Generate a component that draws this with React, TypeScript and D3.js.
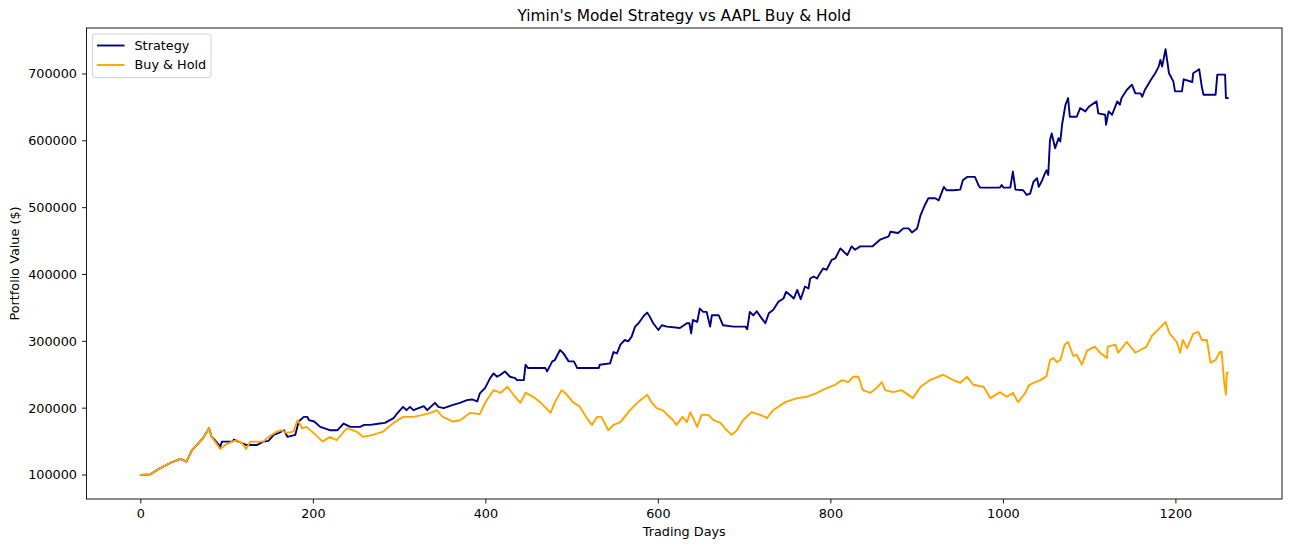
import React from "react";
import * as d3 from "d3";

const strategyDays = [0, 11, 22, 34, 46, 53, 59, 65, 72, 79, 82, 86, 90, 92, 94, 106, 108, 115, 122, 135, 142, 148, 154, 160, 166, 170, 179, 183, 189, 193, 195, 201, 208, 219, 228, 235, 243, 254, 259, 266, 277, 283, 293, 297, 304, 308, 312, 316, 328, 332, 341, 345, 351, 362, 370, 378, 384, 390, 393, 399, 405, 409, 413, 417, 422, 428, 434, 436, 444, 446, 449, 469, 471, 477, 480, 486, 490, 496, 502, 506, 531, 532, 544, 548, 552, 556, 561, 565, 569, 573, 577, 583, 587, 590, 594, 600, 604, 610, 625, 633, 636, 638, 640, 645, 648, 652, 656, 660, 662, 670, 675, 687, 701, 703, 706, 710, 714, 720, 724, 728, 733, 739, 745, 748, 753, 757, 761, 765, 770, 774, 776, 780, 784, 786, 791, 795, 801, 805, 811, 815, 819, 824, 828, 834, 848, 857, 867, 869, 878, 884, 890, 894, 900, 904, 909, 913, 921, 925, 931, 934, 942, 950, 953, 958, 967, 971, 973, 996, 998, 1000, 1008, 1011, 1014, 1023, 1027, 1031, 1035, 1039, 1041, 1045, 1048, 1050, 1052, 1054, 1056, 1060, 1064, 1066, 1068, 1072, 1075, 1077, 1085, 1089, 1095, 1099, 1108, 1110, 1118, 1119, 1122, 1126, 1132, 1135, 1137, 1143, 1149, 1153, 1159, 1161, 1164, 1170, 1176, 1180, 1182, 1184, 1188, 1192, 1197, 1199, 1207, 1209, 1219, 1220, 1227, 1230, 1232, 1246, 1248, 1257, 1258, 1260];

const strategyValues = [100, 101, 110, 118, 124, 120, 137, 145, 155, 170, 157, 152, 146, 142, 150, 150, 153, 149, 145, 145, 150, 151, 160, 163, 167, 157, 160, 180, 187, 187, 182, 180, 172, 167, 167, 177, 172, 172, 175, 175, 177, 178, 185, 192, 202, 197, 202, 197, 203, 197, 208, 202, 200, 205, 208, 212, 213, 210, 222, 230, 245, 252, 247, 250, 255, 247, 245, 242, 242, 265, 260, 260, 255, 270, 272, 287, 282, 270, 270, 260, 260, 265, 267, 284, 282, 295, 302, 300, 307, 322, 327, 338, 343, 337, 327, 317, 324, 322, 320, 327, 327, 312, 332, 329, 349, 344, 344, 322, 339, 339, 324, 322, 322, 318, 344, 339, 345, 334, 327, 342, 347, 359, 364, 374, 369, 364, 377, 363, 382, 379, 394, 397, 394, 399, 409, 407, 422, 424, 439, 434, 429, 442, 437, 442, 442, 452, 457, 464, 462, 469, 469, 463, 469, 489, 504, 514, 514, 511, 531, 526, 526, 527, 541, 546, 546, 534, 530, 530, 534, 530, 530, 554, 527, 526, 519, 521, 539, 544, 531, 541, 551, 556, 549, 601, 611, 589, 604, 599, 624, 654, 664, 636, 636, 649, 644, 651, 659, 641, 639, 624, 644, 639, 659, 654, 664, 676, 684, 671, 671, 666, 676, 689, 701, 711, 721, 711, 737, 701, 689, 674, 674, 692, 688, 701, 707, 681, 669, 669, 699, 699, 664, 664].map((v) => v * 1000);

const buyHoldDays = [0, 11, 22, 34, 46, 53, 59, 65, 72, 79, 82, 86, 92, 98, 106, 111, 117, 122, 127, 142, 148, 158, 163, 169, 177, 181, 182, 187, 192, 200, 211, 219, 227, 239, 250, 258, 269, 281, 293, 304, 316, 327, 336, 343, 350, 362, 370, 382, 393, 399, 409, 417, 425, 432, 440, 446, 455, 463, 475, 480, 488, 494, 501, 509, 517, 523, 529, 534, 542, 548, 556, 567, 579, 587, 592, 598, 605, 617, 621, 628, 633, 637, 645, 650, 658, 664, 672, 677, 685, 691, 698, 708, 718, 726, 733, 747, 761, 772, 784, 795, 805, 813, 820, 826, 832, 837, 846, 853, 859, 863, 872, 882, 895, 904, 915, 930, 942, 950, 958, 965, 977, 985, 996, 1004, 1011, 1017, 1025, 1030, 1039, 1043, 1050, 1054, 1058, 1062, 1066, 1071, 1075, 1081, 1085, 1091, 1097, 1106, 1112, 1120, 1121, 1130, 1133, 1143, 1153, 1159, 1166, 1172, 1182, 1188, 1193, 1201, 1205, 1208, 1213, 1220, 1226, 1230, 1236, 1240, 1246, 1251, 1253, 1256, 1258, 1259, 1260];

const buyHoldValues = [100, 101, 110, 118, 124, 120, 137, 145, 155, 170, 157, 150, 139, 145, 150, 152, 148, 139, 150, 150, 157, 165, 167, 163, 165, 180, 182, 170, 172, 163, 150, 157, 152, 170, 165, 157, 160, 165, 178, 187, 187, 190, 193, 197, 187, 180, 182, 193, 191, 208, 227, 223, 232, 220, 208, 223, 217, 209, 193, 209, 227, 220, 209, 202, 185, 175, 187, 187, 167, 175, 179, 197, 212, 220, 209, 200, 197, 182, 175, 187, 179, 194, 172, 190, 190, 182, 178, 170, 160, 167, 182, 194, 190, 185, 197, 209, 215, 217, 223, 230, 235, 242, 239, 247, 247, 227, 223, 230, 239, 227, 224, 227, 215, 232, 242, 250, 242, 238, 247, 235, 232, 215, 224, 217, 223, 209, 222, 235, 240, 242, 248, 272, 275, 269, 272, 295, 299, 278, 280, 265, 286, 292, 283, 275, 292, 295, 283, 299, 283, 287, 292, 308, 321, 329, 311, 299, 283, 302, 290, 311, 314, 302, 302, 268, 272, 284, 284, 238, 220, 253, 253].map((v) => v * 1000);

const xTicks = [0, 200, 400, 600, 800, 1000, 1200];
const yTicks = [100000, 200000, 300000, 400000, 500000, 600000, 700000];
const seriesNames = ["Strategy", "Buy & Hold"];
const seriesColors = ["#000080", "#FFA500"];
const chartTitle = "Yimin's Model Strategy vs AAPL Buy & Hold";
const xLabel = "Trading Days";
const yLabel = "Portfolio Value ($)";

const W = 1292;
const H = 548;
const left = 86.5;
const right = 1282;
const top = 28;
const bottom = 499;
const font = "'DejaVu Sans', sans-serif";
const fs = 12.8;

export default function App() {
  const x = d3.scaleLinear().domain([-63, 1323]).range([left, right]);
  const y = d3.scaleLinear().domain([64100, 768800]).range([bottom, top]);
  const line = d3
    .line<[number, number]>()
    .x((d) => x(d[0]))
    .y((d) => y(d[1]));
  const strat: [number, number][] = strategyDays.map((d, i) => [d, strategyValues[i]]);
  const bh: [number, number][] = buyHoldDays.map((d, i) => [d, buyHoldValues[i]]);

  return (
    <div style={{ position: "absolute", left: 0, top: 0 }}>
      <svg width={W} height={H} style={{ display: "block", background: "#fff" }} fontFamily={font}>
        <rect x={0} y={0} width={W} height={H} fill="#fff" />
        <defs>
          <clipPath id="plotclip">
            <rect x={left} y={top} width={right - left} height={bottom - top} />
          </clipPath>
        </defs>
        <g clipPath="url(#plotclip)">
          <path d={line(strat) || ""} fill="none" stroke={seriesColors[0]} strokeWidth={1.9} strokeLinejoin="round" strokeLinecap="square" />
          <path d={line(bh) || ""} fill="none" stroke={seriesColors[1]} strokeWidth={1.9} strokeLinejoin="round" strokeLinecap="square" />
        </g>
        <rect x={left} y={top} width={right - left} height={bottom - top} fill="none" stroke="#000" strokeWidth={0.9} />
        {xTicks.map((t) => (
          <g key={"x" + t}>
            <line x1={x(t)} x2={x(t)} y1={bottom} y2={bottom + 4.5} stroke="#000" strokeWidth={0.9} />
            <text x={x(t)} y={bottom + 18.5} fontSize={fs} textAnchor="middle" fill="#000">
              {t}
            </text>
          </g>
        ))}
        {yTicks.map((t) => (
          <g key={"y" + t}>
            <line x1={left - 4.5} x2={left} y1={y(t)} y2={y(t)} stroke="#000" strokeWidth={0.9} />
            <text x={left - 9.5} y={y(t)} dy="0.35em" fontSize={fs} textAnchor="end" fill="#000">
              {t}
            </text>
          </g>
        ))}
        <text x={(left + right) / 2} y={535.5} fontSize={fs} textAnchor="middle" fill="#000">
          {xLabel}
        </text>
        <text
          transform={`translate(19, ${(top + bottom) / 2}) rotate(-90)`}
          fontSize={fs}
          textAnchor="middle"
          fill="#000"
        >
          {yLabel}
        </text>
        <text x={(left + right) / 2} y={20.5} fontSize={15.4} textAnchor="middle" fill="#000">
          {chartTitle}
        </text>
        <g>
          <rect x={92.5} y={34} width={118.5} height={43.5} rx={2.5} fill="#fff" fillOpacity={0.8} stroke="#cccccc" strokeWidth={0.9} />
          {seriesNames.map((n, i) => (
            <g key={n}>
              <line x1={97} x2={124.5} y1={45.5 + i * 19.5} y2={45.5 + i * 19.5} stroke={seriesColors[i]} strokeWidth={1.9} />
              <text x={134.5} y={45.5 + i * 19.5} dy="0.35em" fontSize={fs} fill="#000">
                {n}
              </text>
            </g>
          ))}
        </g>
      </svg>
    </div>
  );
}
